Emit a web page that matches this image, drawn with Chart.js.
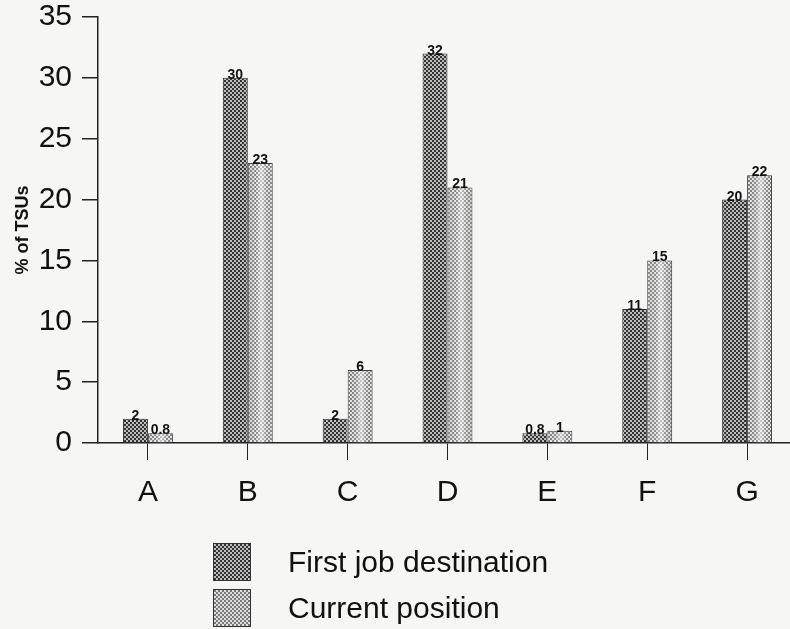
<!DOCTYPE html>
<html>
<head>
<meta charset="utf-8">
<script src="https://cdn.jsdelivr.net/npm/chart.js@4/dist/chart.umd.min.js"></script>
<style>
html,body{margin:0;padding:0;background:#f6f6f4;overflow:hidden;}
#wrap{width:790px;height:629px;position:relative;overflow:hidden;}
#c{position:absolute;left:0;top:0;}
</style>
</head>
<body>
<div id="wrap"><canvas id="c" width="797" height="629"></canvas></div>
<script>
const categories = ['A','B','C','D','E','F','G'];
const firstJob = [2, 30, 2, 32, 0.8, 11, 20];
const currentPos = [0.8, 23, 6, 21, 1, 15, 22];
const valueLabelsFirst = ['2','30','2','32','0.8','11','20'];
const valueLabelsCurrent = ['0.8','23','6','21','1','15','22'];
const seriesNames = ['First job destination','Current position'];
const yTicks = [0,5,10,15,20,25,30,35];

function makePattern(bg, dot, size){
  const p = document.createElement('canvas');
  p.width = size; p.height = size;
  const g = p.getContext('2d');
  g.fillStyle = bg; g.fillRect(0,0,size,size);
  g.fillStyle = dot;
  const h = size/2;
  g.fillRect(0,0,h,h);
  g.fillRect(h,h,h,h);
  return g.createPattern(p,'repeat');
}
const ctx = document.getElementById('c').getContext('2d');
const patDark = makePattern('#bdbdbd', '#333333', 4);
const patLight = makePattern('#dedede', '#7a7a7a', 4);

const bgPlugin = {
  id:'bg',
  beforeDraw(chart){
    const c = chart.ctx;
    c.save(); c.fillStyle = '#f6f6f4'; c.fillRect(0,0,chart.width,chart.height); c.restore();
  }
};
const shinePlugin = {
  id:'shine',
  afterDatasetsDraw(chart){
    const c = chart.ctx;
    const meta = chart.getDatasetMeta(1);
    c.save();
    meta.data.forEach(el => {
      const w = el.width, left = el.x - w/2, top = el.y, bottom = el.base;
      const g = c.createLinearGradient(left, 0, left + w, 0);
      g.addColorStop(0, 'rgba(255,255,255,0)');
      g.addColorStop(0.35, 'rgba(255,255,255,0.15)');
      g.addColorStop(0.55, 'rgba(255,255,255,0.6)');
      g.addColorStop(0.75, 'rgba(255,255,255,0.15)');
      g.addColorStop(1, 'rgba(255,255,255,0)');
      c.fillStyle = g;
      c.fillRect(left + 1, top + 1, w - 2, bottom - top - 1);
    });
    c.restore();
  }
};
const labelPlugin = {
  id:'vlabels',
  afterDatasetsDraw(chart){
    const c = chart.ctx;
    const lists = [valueLabelsFirst, valueLabelsCurrent];
    c.save();
    c.font = 'bold 14px "Liberation Sans", Arial, sans-serif';
    c.fillStyle = '#111';
    c.textAlign = 'center';
    c.textBaseline = 'alphabetic';
    chart.data.datasets.forEach((ds, di) => {
      const meta = chart.getDatasetMeta(di);
      meta.data.forEach((el, i) => {
        c.fillText(lists[di][i], el.x, el.y + 1);
      });
    });
    c.restore();
  }
};
const legendPlugin = {
  id:'customLegend',
  afterDraw(chart){
    const c = chart.ctx;
    const ca = chart.chartArea;
    const pats = [patDark, patLight];
    c.save();
    c.font = '30px "Liberation Sans", Arial, sans-serif';
    c.textBaseline = 'middle';
    c.textAlign = 'left';
    seriesNames.forEach((name, i) => {
      const x = 213, y = ca.bottom + 100 + i*46;
      c.fillStyle = pats[i];
      c.fillRect(x, y, 38, 38);
      c.strokeStyle = '#333'; c.lineWidth = 1;
      c.strokeRect(x+0.5, y+0.5, 37, 37);
      c.fillStyle = '#111';
      c.fillText(name, 288, y + 21);
    });
    c.restore();
  }
};

new Chart(ctx, {
  type:'bar',
  data:{
    labels: categories,
    datasets:[
      {label: seriesNames[0], data: firstJob, backgroundColor: patDark, borderColor:'#333', borderWidth:1, categoryPercentage:0.5, barPercentage:1},
      {label: seriesNames[1], data: currentPos, backgroundColor: patLight, borderColor:'#444', borderWidth:1, categoryPercentage:0.5, barPercentage:1}
    ]
  },
  options:{
    responsive:false,
    animation:false,
    layout:{padding:{top:17, right:0, bottom:0, left:0}},
    plugins:{legend:{display:false}, tooltip:{enabled:false}},
    scales:{
      x:{
        grid:{drawOnChartArea:false, drawTicks:true, tickLength:17, color:'#222', offset:false, lineWidth:1},
        border:{display:true, color:'#222', width:1.5},
        ticks:{color:'#111', font:{family:'"Liberation Sans", Arial, sans-serif', size:30}, padding:15},
        afterFit(scale){ scale.height = 186; scale.paddingLeft = 0; scale.paddingRight = 0; }
      },
      y:{
        min:0, max:35,
        afterBuildTicks(scale){ scale.ticks = yTicks.map(v => ({value:v})); },
        grid:{drawOnChartArea:false, drawTicks:true, tickLength:16, color:'#222', lineWidth:1.5},
        border:{display:true, color:'#222', width:1.5},
        ticks:{color:'#111', font:{family:'"Liberation Sans", Arial, sans-serif', size:30}, padding:10},
        title:{display:true, text:'% of TSUs', color:'#111', font:{family:'"Liberation Sans", Arial, sans-serif', size:18, weight:'bold'}, padding:{top:12,bottom:0}},
        afterFit(scale){ scale.width = 98; scale.paddingTop = 0; scale.paddingBottom = 0; }
      }
    }
  },
  plugins:[bgPlugin, shinePlugin, labelPlugin, legendPlugin]
});
</script>
</body>
</html>
